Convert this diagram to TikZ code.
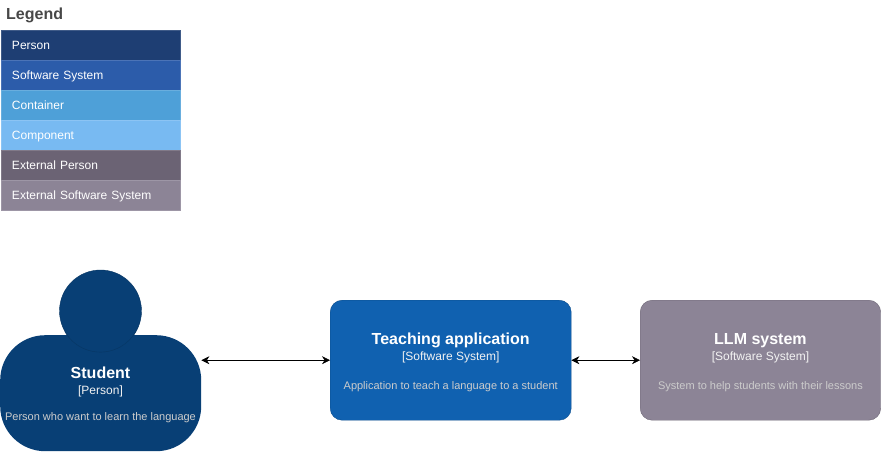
\documentclass[tikz,border=0pt]{standalone}
\usepackage{fontspec}
\setmainfont{Liberation Sans}
\usepackage{tikz}
\usetikzlibrary{positioning,arrows.meta}
\definecolor{personblue}{HTML}{083F75}
\definecolor{systemblue}{HTML}{1061B0}
\definecolor{externalgrey}{HTML}{8C8496}
\definecolor{legendperson}{HTML}{1E3E73}
\definecolor{legendsoftware}{HTML}{2C5CAA}
\definecolor{legendcontainer}{HTML}{4EA0D8}
\definecolor{legendcomponent}{HTML}{78BAF2}
\definecolor{legendexternal}{HTML}{6B6374}
\begin{document}
\newcommand{\boxtext}[4][15pt]{\rule{0pt}{16pt}{\fontsize{16}{17}\selectfont\bfseries #2}\\[2pt]
  {\fontsize{12}{13}\selectfont\color{white!95!black} #3}\\[#1]
  {\fontsize{11}{12}\selectfont\color{white!80!black} #4}}
\begin{tikzpicture}[x=1pt, y=-1pt, font=\fontsize{12}{14}\selectfont,
  legend/.style={draw=#1!85!white, fill=#1, text=white, anchor=west, align=left,
                 minimum height=30pt, inner ysep=0pt, inner xsep=11pt,
                 text width=157.6pt, text height=10pt, text depth=2pt, outer sep=0pt},
  sys/.style={draw=#1!80!black, fill=#1, text=white, rounded corners=12pt, align=center,
              minimum width=241pt, minimum height=120pt, inner sep=0pt},
  arr/.style={{Stealth[length=8pt,width=8pt]}-{Stealth[length=8pt,width=8pt]}, semithick}]
\useasboundingbox (0,0) rectangle (881,451);
% legend
\node[anchor=west, font=\fontsize{16}{17}\selectfont\bfseries, text=black!72, inner sep=0pt] (title) at (6,15) {Legend};
\node[legend=legendperson, anchor=north west] (person) at (1,30) {Person};
\node[legend=legendsoftware, below=0pt of person] (software) {Software System};
\node[legend=legendcontainer, below=0pt of software] (container) {Container};
\node[legend=legendcomponent, below=0pt of container] (component) {Component};
\node[legend=legendexternal, below=0pt of component] (extperson) {External Person};
\node[legend=externalgrey, below=0pt of extperson] (extsoftware) {External Software System};
% actors
\node[draw=personblue!85!black, fill=personblue, circle, minimum size=82pt, inner sep=0pt] (head) at (100.5,311) {};
\node[sys=personblue, rounded corners=45pt, draw=none, minimum width=201pt, minimum height=116pt, anchor=north west] (student) at (0,335) {};
\draw[personblue!85!black] (head.210) arc[start angle=210, end angle=330, radius=41pt];
\node[text=white, align=center, inner sep=0pt] (studenttext) at (100.5,392.5) {\boxtext[12pt]{Student}{[Person]}{Person who want to learn the language}};
\node[sys=systemblue, anchor=north west] (teaching) at (330,300) {\boxtext{Teaching application}{[Software System]}{Application to teach a language to a student}};
\node[sys=externalgrey, anchor=north west, minimum width=240.5pt] (llm) at (640,300) {\boxtext{LLM system}{[Software System]}{System to help students with their lessons}};
\draw[arr] (student.east |- teaching.west) -- (teaching.west);
\draw[arr] (teaching) -- (llm);
\end{tikzpicture}
\end{document}
